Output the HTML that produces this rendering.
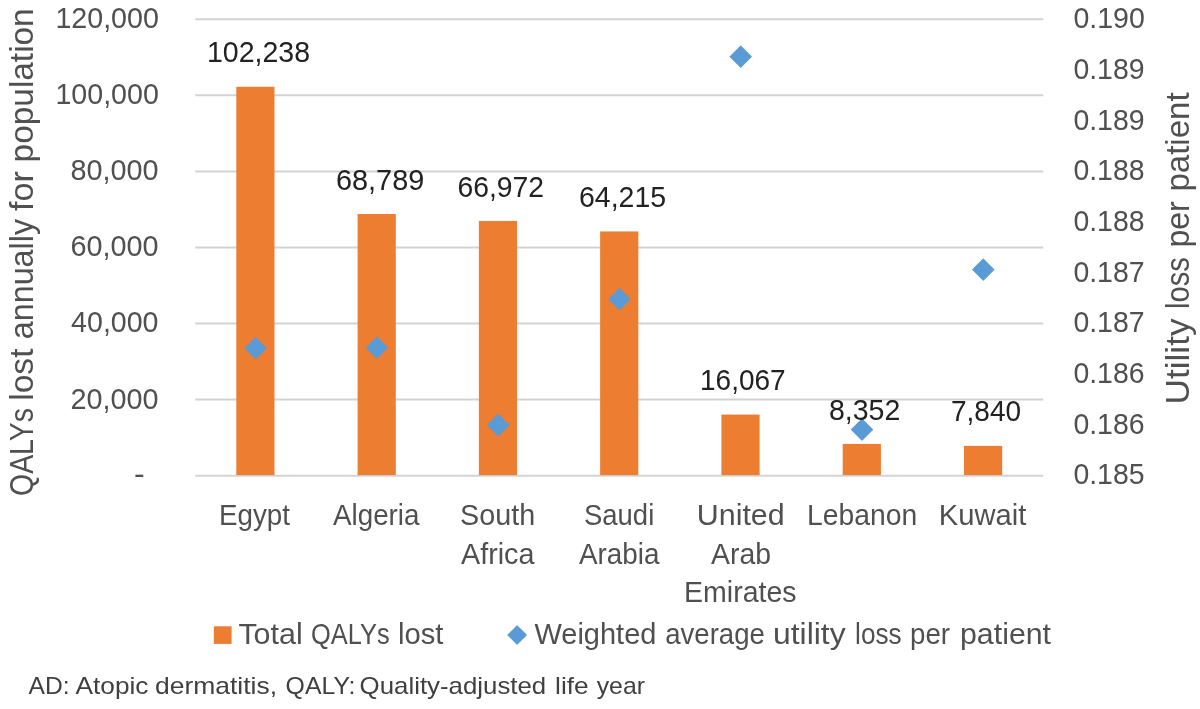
<!DOCTYPE html>
<html lang="en"><head><meta charset="utf-8"><title>QALYs lost annually for population</title>
<style>html,body{margin:0;padding:0;background:#fff;}svg{display:block;}text{font-family:"Liberation Sans", sans-serif;}</style>
</head><body>
<svg width="1200" height="709" viewBox="0 0 1200 709">
<rect id="bg" x="0" y="0" width="1200" height="709" fill="#ffffff"/>
<g id="grid" stroke="#d3d3d3" stroke-width="2">
<line x1="195.3" y1="475.70" x2="1043.3" y2="475.70"/>
<line x1="195.3" y1="399.62" x2="1043.3" y2="399.62"/>
<line x1="195.3" y1="323.54" x2="1043.3" y2="323.54"/>
<line x1="195.3" y1="247.46" x2="1043.3" y2="247.46"/>
<line x1="195.3" y1="171.38" x2="1043.3" y2="171.38"/>
<line x1="195.3" y1="95.30" x2="1043.3" y2="95.30"/>
<line x1="195.3" y1="19.22" x2="1043.3" y2="19.22"/>
</g>
<g id="bars" fill="#ed7d31">
<rect x="236.30" y="86.79" width="38.20" height="388.31"/>
<rect x="357.58" y="214.03" width="38.20" height="261.07"/>
<rect x="478.86" y="220.94" width="38.20" height="254.16"/>
<rect x="600.14" y="231.43" width="38.20" height="243.67"/>
<rect x="721.42" y="414.58" width="38.20" height="60.52"/>
<rect x="842.70" y="443.93" width="38.20" height="31.17"/>
<rect x="963.98" y="445.88" width="38.20" height="29.22"/>
</g>
<g id="marks" fill="#5b9bd5" stroke="#5b9bd5" stroke-width="1.2" stroke-linejoin="round">
<path d="M255.60 337.70L266.10 348.20L255.60 358.70L245.10 348.20Z"/>
<path d="M376.88 337.10L387.38 347.60L376.88 358.10L366.38 347.60Z"/>
<path d="M498.16 414.50L508.66 425.00L498.16 435.50L487.66 425.00Z"/>
<path d="M619.44 288.70L629.94 299.20L619.44 309.70L608.94 299.20Z"/>
<path d="M740.72 46.20L751.22 56.70L740.72 67.20L730.22 56.70Z"/>
<path d="M862.00 419.20L872.50 429.70L862.00 440.20L851.50 429.70Z"/>
<path d="M983.28 259.10L993.78 269.60L983.28 280.10L972.78 269.60Z"/>
</g>
<g id="legend"><rect x="213.8" y="626.3" width="17.8" height="17.6" fill="#ed7d31"/>
<path fill="#5b9bd5" stroke="#5b9bd5" stroke-width="1.2" stroke-linejoin="round" d="M517.10 625.90L526.20 635.00L517.10 644.10L508.00 635.00Z"/></g>
<text id="yl0" y="28.10" font-size="28.70" fill="#505050"><tspan id="yl0_0" x="55.40" textLength="103.47" lengthAdjust="spacingAndGlyphs">120,000</tspan></text>
<text id="yl1" y="104.18" font-size="28.70" fill="#505050"><tspan id="yl1_0" x="55.40" textLength="103.47" lengthAdjust="spacingAndGlyphs">100,000</tspan></text>
<text id="yl2" y="180.26" font-size="28.70" fill="#505050"><tspan id="yl2_0" x="70.50" textLength="88.06" lengthAdjust="spacingAndGlyphs">80,000</tspan></text>
<text id="yl3" y="256.34" font-size="28.70" fill="#505050"><tspan id="yl3_0" x="70.50" textLength="88.06" lengthAdjust="spacingAndGlyphs">60,000</tspan></text>
<text id="yl4" y="332.42" font-size="28.70" fill="#505050"><tspan id="yl4_0" x="71.10" textLength="87.42" lengthAdjust="spacingAndGlyphs">40,000</tspan></text>
<text id="yl5" y="408.50" font-size="28.70" fill="#505050"><tspan id="yl5_0" x="70.50" textLength="88.06" lengthAdjust="spacingAndGlyphs">20,000</tspan></text>
<text id="yl6" y="483.50" font-size="28.70" fill="#505050"><tspan id="yl6_0" x="134.00" textLength="10.67" lengthAdjust="spacingAndGlyphs">-</tspan></text>
<text id="yr0" y="28.40" font-size="28.70" fill="#505050"><tspan id="yr0_0" x="1073.40" textLength="71.44" lengthAdjust="spacingAndGlyphs">0.190</tspan></text>
<text id="yr1" y="79.07" font-size="28.70" fill="#505050"><tspan id="yr1_0" x="1073.40" textLength="71.18" lengthAdjust="spacingAndGlyphs">0.189</tspan></text>
<text id="yr2" y="129.74" font-size="28.70" fill="#505050"><tspan id="yr2_0" x="1073.40" textLength="71.18" lengthAdjust="spacingAndGlyphs">0.189</tspan></text>
<text id="yr3" y="180.41" font-size="28.70" fill="#505050"><tspan id="yr3_0" x="1073.40" textLength="71.18" lengthAdjust="spacingAndGlyphs">0.188</tspan></text>
<text id="yr4" y="231.08" font-size="28.70" fill="#505050"><tspan id="yr4_0" x="1073.40" textLength="71.18" lengthAdjust="spacingAndGlyphs">0.188</tspan></text>
<text id="yr5" y="281.75" font-size="28.70" fill="#505050"><tspan id="yr5_0" x="1073.40" textLength="71.18" lengthAdjust="spacingAndGlyphs">0.187</tspan></text>
<text id="yr6" y="332.42" font-size="28.70" fill="#505050"><tspan id="yr6_0" x="1073.40" textLength="71.18" lengthAdjust="spacingAndGlyphs">0.187</tspan></text>
<text id="yr7" y="383.09" font-size="28.70" fill="#505050"><tspan id="yr7_0" x="1073.40" textLength="71.18" lengthAdjust="spacingAndGlyphs">0.186</tspan></text>
<text id="yr8" y="433.76" font-size="28.70" fill="#505050"><tspan id="yr8_0" x="1073.40" textLength="71.18" lengthAdjust="spacingAndGlyphs">0.186</tspan></text>
<text id="yr9" y="484.43" font-size="28.70" fill="#505050"><tspan id="yr9_0" x="1073.40" textLength="71.18" lengthAdjust="spacingAndGlyphs">0.185</tspan></text>
<text id="dl0" y="62.20" font-size="28.70" fill="#222222"><tspan id="dl0_0" x="207.00" textLength="103.06" lengthAdjust="spacingAndGlyphs">102,238</tspan></text>
<text id="dl1" y="190.00" font-size="28.70" fill="#222222"><tspan id="dl1_0" x="336.00" textLength="88.23" lengthAdjust="spacingAndGlyphs">68,789</tspan></text>
<text id="dl2" y="196.75" font-size="28.70" fill="#222222"><tspan id="dl2_0" x="457.50" textLength="86.56" lengthAdjust="spacingAndGlyphs">66,972</tspan></text>
<text id="dl3" y="206.80" font-size="28.70" fill="#222222"><tspan id="dl3_0" x="579.00" textLength="87.05" lengthAdjust="spacingAndGlyphs">64,215</tspan></text>
<text id="dl4" y="390.00" font-size="28.70" fill="#222222"><tspan id="dl4_0" x="700.00" textLength="85.63" lengthAdjust="spacingAndGlyphs">16,067</tspan></text>
<text id="dl5" y="419.50" font-size="28.70" fill="#222222"><tspan id="dl5_0" x="829.00" textLength="71.32" lengthAdjust="spacingAndGlyphs">8,352</tspan></text>
<text id="dl6" y="420.50" font-size="28.70" fill="#222222"><tspan id="dl6_0" x="951.00" textLength="70.06" lengthAdjust="spacingAndGlyphs">7,840</tspan></text>
<text id="c0" y="525.30" font-size="28.70" fill="#505050"><tspan id="c0_0" x="219.00" textLength="71.03" lengthAdjust="spacingAndGlyphs">Egypt</tspan></text>
<text id="c1" y="525.30" font-size="28.70" fill="#505050"><tspan id="c1_0" x="333.00" textLength="86.50" lengthAdjust="spacingAndGlyphs">Algeria</tspan></text>
<text id="c2" y="525.30" font-size="28.70" fill="#505050"><tspan id="c2_0" x="460.00" textLength="75.13" lengthAdjust="spacingAndGlyphs">South</tspan></text>
<text id="c3" y="563.55" font-size="28.70" fill="#505050"><tspan id="c3_0" x="461.00" textLength="73.50" lengthAdjust="spacingAndGlyphs">Africa</tspan></text>
<text id="c4" y="525.30" font-size="28.70" fill="#505050"><tspan id="c4_0" x="584.00" textLength="70.23" lengthAdjust="spacingAndGlyphs">Saudi</tspan></text>
<text id="c5" y="563.55" font-size="28.70" fill="#505050"><tspan id="c5_0" x="579.00" textLength="80.50" lengthAdjust="spacingAndGlyphs">Arabia</tspan></text>
<text id="c6" y="525.30" font-size="28.70" fill="#505050"><tspan id="c6_0" x="696.75" textLength="87.95" lengthAdjust="spacingAndGlyphs">United</tspan></text>
<text id="c7" y="563.55" font-size="28.70" fill="#505050"><tspan id="c7_0" x="711.00" textLength="60.02" lengthAdjust="spacingAndGlyphs">Arab</tspan></text>
<text id="c8" y="601.80" font-size="28.70" fill="#505050"><tspan id="c8_0" x="684.00" textLength="112.57" lengthAdjust="spacingAndGlyphs">Emirates</tspan></text>
<text id="c9" y="525.30" font-size="28.70" fill="#505050"><tspan id="c9_0" x="807.00" textLength="110.13" lengthAdjust="spacingAndGlyphs">Lebanon</tspan></text>
<text id="c10" y="525.30" font-size="28.70" fill="#505050"><tspan id="c10_0" x="938.75" textLength="87.58" lengthAdjust="spacingAndGlyphs">Kuwait</tspan></text>
<text id="lg0" y="644.00" font-size="28.70" fill="#505050"><tspan id="lg0_0" x="238.40" textLength="64.27" lengthAdjust="spacingAndGlyphs">Total</tspan> <tspan id="lg0_1" x="311.00" textLength="78.65" lengthAdjust="spacingAndGlyphs">QALYs</tspan> <tspan id="lg0_2" x="398.00" textLength="45.47" lengthAdjust="spacingAndGlyphs">lost</tspan></text>
<text id="lg1" y="644.00" font-size="28.70" fill="#505050"><tspan id="lg1_0" x="534.40" textLength="122.03" lengthAdjust="spacingAndGlyphs">Weighted</tspan> <tspan id="lg1_1" x="665.20" textLength="99.64" lengthAdjust="spacingAndGlyphs">average</tspan> <tspan id="lg1_2" x="773.00" textLength="72.65" lengthAdjust="spacingAndGlyphs">utility</tspan> <tspan id="lg1_3" x="855.10" textLength="46.53" lengthAdjust="spacingAndGlyphs">loss</tspan> <tspan id="lg1_4" x="910.00" textLength="40.11" lengthAdjust="spacingAndGlyphs">per</tspan> <tspan id="lg1_5" x="960.00" textLength="91.03" lengthAdjust="spacingAndGlyphs">patient</tspan></text>
<text id="fn" y="694.40" font-size="23.80" fill="#404040"><tspan id="fn_0" x="28.60" textLength="41.06" lengthAdjust="spacingAndGlyphs">AD:</tspan> <tspan id="fn_1" x="75.60" textLength="72.83" lengthAdjust="spacingAndGlyphs">Atopic</tspan> <tspan id="fn_2" x="155.00" textLength="122.08" lengthAdjust="spacingAndGlyphs">dermatitis,</tspan> <tspan id="fn_3" x="285.60" textLength="69.89" lengthAdjust="spacingAndGlyphs">QALY:</tspan> <tspan id="fn_4" x="359.60" textLength="186.64" lengthAdjust="spacingAndGlyphs">Quality-adjusted</tspan> <tspan id="fn_5" x="555.10" textLength="33.58" lengthAdjust="spacingAndGlyphs">life</tspan> <tspan id="fn_6" x="596.70" textLength="48.30" lengthAdjust="spacingAndGlyphs">year</tspan></text>
<text id="tl" transform="translate(32.90,0) rotate(-90)" y="0" font-size="32.50" fill="#505050"><tspan id="tl_0" x="-496.00" textLength="88.03" lengthAdjust="spacingAndGlyphs">QALYs</tspan> <tspan id="tl_1" x="-400.80" textLength="52.32" lengthAdjust="spacingAndGlyphs">lost</tspan> <tspan id="tl_2" x="-339.20" textLength="120.22" lengthAdjust="spacingAndGlyphs">annually</tspan> <tspan id="tl_3" x="-211.00" textLength="40.03" lengthAdjust="spacingAndGlyphs">for</tspan> <tspan id="tl_4" x="-162.40" textLength="154.08" lengthAdjust="spacingAndGlyphs">population</tspan></text>
<text id="tr" transform="translate(1189.20,0) rotate(-90)" y="0" font-size="32.50" fill="#505050"><tspan id="tr_0" x="-404.40" textLength="85.87" lengthAdjust="spacingAndGlyphs">Utility</tspan> <tspan id="tr_1" x="-309.00" textLength="51.77" lengthAdjust="spacingAndGlyphs">loss</tspan> <tspan id="tr_2" x="-247.60" textLength="46.31" lengthAdjust="spacingAndGlyphs">per</tspan> <tspan id="tr_3" x="-191.60" textLength="99.25" lengthAdjust="spacingAndGlyphs">patient</tspan></text>
</svg>
</body></html>
